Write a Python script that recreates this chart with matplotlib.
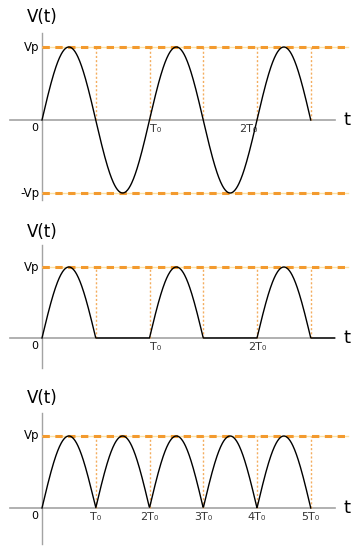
import numpy as np
import matplotlib.pyplot as plt

W, H = 352, 547

# signal parameters (in units of T0 and Vp)
VP = 1.0
T0 = 1.0
N_PERIODS = 2.5
crossings = [0.5, 1.0, 1.5, 2.0, 2.5]

top_ticks = [1.0, 2.0]
top_labels = ["T₀", "2T₀"]
half_ticks = [1.0, 2.0]
half_labels = ["T₀", "2T₀"]
full_ticks = [0.5, 1.0, 1.5, 2.0, 2.5]
full_labels = ["T₀", "2T₀", "3T₀", "4T₀", "5T₀"]

ORANGE = "#f39a2e"
LIGHT = "#fbe1a6"
DOTS = "#f4ad5e"
AXIS = "#a3a3a3"

X0 = 42      # pixel column of t = 0
PX = 107.5   # pixels per T0

fig = plt.figure(figsize=(W / 100, H / 100), dpi=100)


def panel(top, bottom, oy, vpy):
    ax = fig.add_axes([0, 1 - bottom / H, 1, (bottom - top) / H])
    s = oy - vpy
    ax.set_ylim((oy - bottom) / s, (oy - top) / s)
    ax.set_xlim(-X0 / PX, (W - X0) / PX)
    ax.axis("off")
    return ax


def decorate(ax, ybot, ytop, ylab, neg=False):
    # axes
    ax.plot([-0.3, 2.73], [0, 0], color=AXIS, lw=1.2, zorder=1)
    ax.plot([0, 0], [ybot, ytop], color=AXIS, lw=1.0, zorder=1)
    # peak lines
    levels = [VP, -VP] if neg else [VP]
    for lv in levels:
        ax.plot([0, 2.85], [lv, lv], color=LIGHT, lw=1.0, zorder=2)
        ax.plot([0, 2.85], [lv, lv], color=ORANGE, lw=2.2,
                dashes=(2.4, 1.8), zorder=3)
    for c in crossings:
        ax.plot([c, c], [0, VP], color=DOTS, lw=1.0, ls=(0, (1.5, 1.5)),
                zorder=2)
    ax.text(0.005, ylab, "V(t)", ha="center", va="center", fontsize=12)
    ax.text(-0.02, VP, "Vp", ha="right", va="center", fontsize=8.5)
    if neg:
        ax.text(-0.02, -VP, "-Vp", ha="right", va="center", fontsize=8.5)
    ax.text(-0.07, -0.11, "0", ha="center", va="center", fontsize=8)
    ax.text(2.84, 0, "t", ha="center", va="center", fontsize=13)


def ticks(ax, pos, labels, align):
    for p, lab, a in zip(pos, labels, align):
        ax.text(p, -0.12, lab, ha=a, va="center", fontsize=8, color="#333333")


t = np.linspace(0, N_PERIODS * T0, 600)
v = VP * np.sin(2 * np.pi * t / T0)

# full sine
ax1 = panel(0, 205, 120, 47)
decorate(ax1, -1.1, 1.19, 1.41, neg=True)
ax1.plot(t, v, color="black", lw=1.0, zorder=4)
ticks(ax1, top_ticks, top_labels, ["left", "right"])

# half-wave rectified
ax2 = panel(205, 372, 338, 267)
decorate(ax2, -0.42, 1.31, 1.49)
t2 = np.linspace(0, 2.72, 700)
v2 = np.where(t2 <= N_PERIODS * T0, np.clip(VP * np.sin(2 * np.pi * t2 / T0), 0, None), 0)
ax2.plot(t2, v2, color="black", lw=1.0, zorder=4)
ticks(ax2, half_ticks, half_labels, ["left", "center"])

# full-wave rectified
ax3 = panel(372, 547, 508, 436)
decorate(ax3, -0.5, 1.32, 1.53)
ax3.plot(t, np.abs(v), color="black", lw=1.0, zorder=4)
ticks(ax3, full_ticks, full_labels, ["center"] * 5)

fig.savefig("out.png", dpi=100)
